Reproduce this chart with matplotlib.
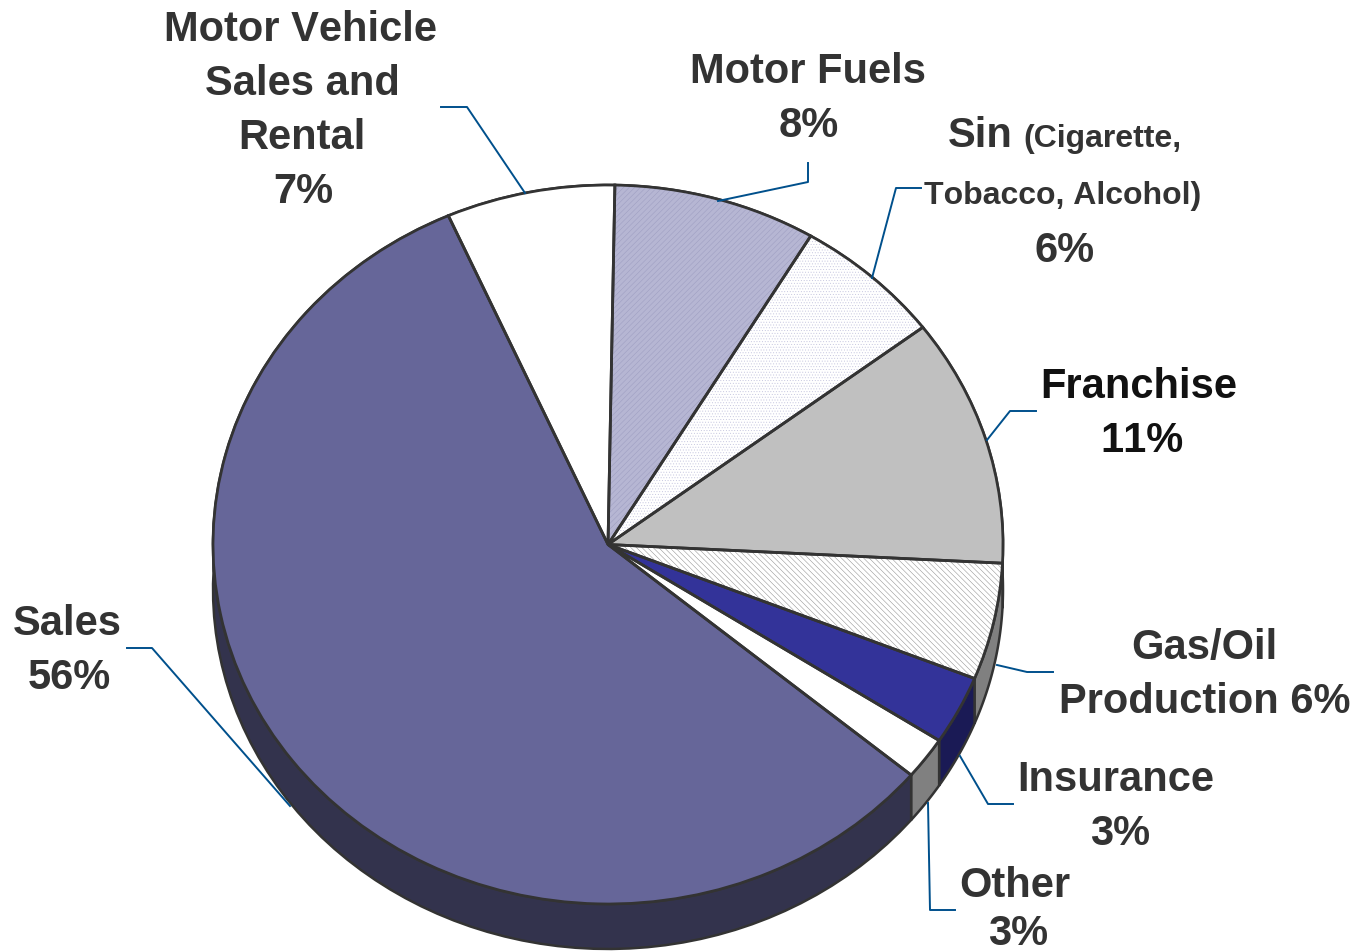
import matplotlib
matplotlib.use("Agg")
import matplotlib.pyplot as plt
import numpy as np

# shares as measured on the pie, clockwise from the top
slices = ["Motor Fuels", "Sin", "Franchise", "Gas/Oil", "Insurance", "Other", "Sales", "Motor Vehicle"]
shares = [8.3, 6.1, 11.15, 5.25, 3.1, 1.9, 57.3, 6.9]
top_colors = ["#b6b6d3", "#ffffff", "#c0c0c0", "#ffffff", "#333399", "#ffffff", "#666699", "#ffffff"]
hatch_colors = ["#9c9cc0", "#c4c4de", "#c0c0c0", "#8c8c8c", "#333399", "#ffffff", "#666699", "#ffffff"]
hatches = ["//////", "......", None, "\\\\\\\\\\\\", None, None, None, None]
wall_colors = ["#5b5b6a", "#808080", "#333333", "#808080", "#1a1a55", "#808080", "#33334d", "#808080"]

plt.rcParams['font.family'] = ['Liberation Sans', 'DejaVu Sans']
plt.rcParams['hatch.linewidth'] = 0.35
plt.rcParams['text.kerning_factor'] = 8

W, H = 1361, 952
cx, cy, rx, ry = 608, 544.5, 395, 359.5
depth = 45 / ry
start = 89
outline = "#333333"
leader = "#00508c"
textcol = "#333333"

fig = plt.figure(figsize=(W / 100, H / 100), dpi=100, facecolor="white")

# pie axes : radius 1 is stretched into the tilted ellipse
ax = fig.add_axes([0, 0, 1, 1])

# side wall of the pie
edges = start - np.cumsum([0] + shares) * 360 / sum(shares)
for i in range(len(shares)):
    t = np.radians(np.linspace(edges[i], edges[i + 1], 80))
    xs = np.concatenate([np.cos(t), np.cos(t[::-1])])
    ys = np.concatenate([np.sin(t), np.sin(t[::-1]) - depth])
    ax.fill(xs, ys, facecolor=wall_colors[i], edgecolor=outline, linewidth=1.8, zorder=1)

# top, fill and hatch first then the outline on top
wedges, _ = ax.pie(shares, colors=top_colors, startangle=start, counterclock=False,
                   wedgeprops={"linewidth": 0, "zorder": 2})
for w, hc, h in zip(wedges, hatch_colors, hatches):
    w.set_edgecolor(hc)
    if h:
        w.set_hatch(h)
ax.pie(shares, colors=["none"] * len(shares), startangle=start, counterclock=False,
       wedgeprops={"linewidth": 2.0, "edgecolor": outline, "zorder": 3})

ax.set_aspect("auto")
ax.set_xlim(-cx / rx, (W - cx) / rx)
ax.set_ylim((cy - H) / ry, cy / ry)
ax.axis("off")

# overlay in pixels for the labels and leaders
lay = fig.add_axes([0, 0, 1, 1])
lay.set_xlim(0, W)
lay.set_ylim(H, 0)
lay.axis("off")
lay.patch.set_alpha(0)

leaders = [
    [(441, 107), (467, 107), (525, 193)],
    [(808, 163), (808, 182), (718, 201)],
    [(921, 188), (896, 188), (872, 278)],
    [(1036, 411), (1010, 411), (987, 440)],
    [(1053, 672), (1027, 672), (997, 665)],
    [(1013, 804), (988, 804), (960, 756)],
    [(955, 910), (930, 910), (928, 803)],
    [(127, 648), (152, 648), (290, 806)],
]
for pts in leaders:
    lay.plot([p[0] for p in pts], [p[1] for p in pts], color=leader, linewidth=1.4)

labels = [
    ("Motor Vehicle", 301, 41), ("Sales and", 302, 95), ("Rental", 302, 149), ("7%", 303, 203),
    ("Motor Fuels", 808, 83), ("8%", 809, 137),
    ("6%", 1065, 262),
    ("Gas/Oil", 1204, 659), ("Production 6%", 1205, 713),
    ("Insurance", 1116, 791), ("3%", 1120, 845),
    ("Other", 1015, 897), ("3%", 1018, 945),
    ("Sales", 67, 635), ("56%", 69, 689),
]
for s, x, y in labels:
    lay.text(x, y, s, ha="center", va="baseline", fontsize=30, fontweight="bold", color=textcol)

lay.text(948, 147, "Sin", ha="left", va="baseline", fontsize=30, fontweight="bold", color=textcol)
lay.text(1023, 147, "(Cigarette,", ha="left", va="baseline", fontsize=23, fontweight="bold", color=textcol)
lay.text(1063, 204, "Tobacco, Alcohol)", ha="center", va="baseline", fontsize=23, fontweight="bold", color=textcol)

lay.text(1139, 398, "Franchise", ha="center", va="baseline", fontsize=30, fontweight="bold", color="#111111")
lay.text(1142, 452, "11%", ha="center", va="baseline", fontsize=30, fontweight="bold", color="#111111")

fig.savefig("out.png", dpi=100, facecolor="white")
